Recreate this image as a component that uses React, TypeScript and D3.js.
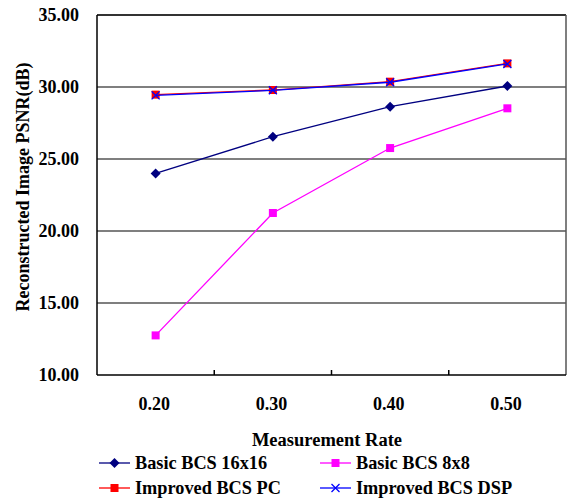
import React from "react";
import * as d3 from "d3";

const categories = ["0.20", "0.30", "0.40", "0.50"];
const basic16 = [24.0, 26.55, 28.63, 30.07];
const basic8 = [12.75, 21.25, 25.76, 28.52];
const improvedPC = [29.47, 29.79, 30.37, 31.64];
const improvedDSP = [29.42, 29.77, 30.33, 31.6];
const yTicks = [10, 15, 20, 25, 30, 35];

const seriesList = [
  { name: "Basic BCS 16x16", values: basic16, color: "#000080", marker: "diamond" },
  { name: "Basic BCS 8x8", values: basic8, color: "#FF00FF", marker: "square" },
  { name: "Improved BCS PC", values: improvedPC, color: "#FF0000", marker: "circle" },
  { name: "Improved BCS DSP", values: improvedDSP, color: "#0000FF", marker: "x" },
];

const W = 567, H = 501;
const left = 97, right = 566, top = 15, bottom = 375;
const font = "'Liberation Serif', 'Times New Roman', serif";

function Marker({ type, x, y, color }: { type: string; x: number; y: number; color: string }) {
  if (type === "diamond") {
    const s = 5;
    return <path d={`M${x},${y - s}L${x + s},${y}L${x},${y + s}L${x - s},${y}Z`} fill={color} />;
  }
  if (type === "square") {
    return <rect x={x - 4} y={y - 4} width={8} height={8} fill={color} />;
  }
  if (type === "circle") {
    return <rect x={x - 4} y={y - 4} width={8} height={8} fill={color} />;
  }
  const s = 4;
  return (
    <path d={`M${x - s},${y - s}L${x + s},${y + s}M${x - s},${y + s}L${x + s},${y - s}`} stroke={color} strokeWidth={1.3} fill="none" />
  );
}

export default function App() {
  const x = d3.scaleBand<string>().domain(categories).range([left, right]);
  const y = d3.scaleLinear().domain([10, 35]).range([bottom, top]);
  const cx = (i: number) => (x(categories[i]) as number) + x.bandwidth() / 2;
  const line = d3
    .line<number>()
    .x((_, i) => cx(i))
    .y((d) => y(d));

  const legendPos = [
    { lx: 99, ty: 463 },
    { lx: 320, ty: 463 },
    { lx: 99, ty: 488 },
    { lx: 320, ty: 488 },
  ];

  return (
    <svg width={W} height={H} style={{ position: "absolute", left: 0, top: 0 }} fontFamily={font}>
      <rect width={W} height={H} fill="#fff" />
      {yTicks.slice(1, -1).map((t) => (
        <line key={t} x1={left} x2={right} y1={y(t)} y2={y(t)} stroke="#555" strokeWidth={1.5} />
      ))}
      <line x1={left} x2={right} y1={top} y2={top} stroke="#333" strokeWidth={2} />
      <line x1={right} x2={right} y1={top} y2={bottom} stroke="#555" strokeWidth={1.5} />
      <line x1={left} x2={left} y1={top} y2={bottom} stroke="#000" strokeWidth={1.5} />
      <line x1={left} x2={right} y1={bottom} y2={bottom} stroke="#000" strokeWidth={1.5} />
      {categories.slice(1).map((c) => (
        <line key={c} x1={x(c)} x2={x(c)} y1={bottom} y2={bottom - 5} stroke="#000" strokeWidth={1.5} />
      ))}
      {yTicks.map((t) => (
        <text key={t} x={79} y={y(t)} dy="0.35em" textAnchor="end" fontSize={18} fontWeight="bold">
          {t.toFixed(2)}
        </text>
      ))}
      {categories.map((c, i) => (
        <text key={c} x={cx(i) - 1.5} y={410} textAnchor="middle" fontSize={18} fontWeight="bold">
          {c}
        </text>
      ))}
      <text x={327} y={446} textAnchor="middle" fontSize={18.5} fontWeight="bold">
        Measurement Rate
      </text>
      <text transform={`translate(29,187) rotate(-90)`} textAnchor="middle" fontSize={18} fontWeight="bold">
        Reconstructed Image PSNR(dB)
      </text>
      {seriesList.map((s) => (
        <g key={s.name}>
          <path d={line(s.values) as string} fill="none" stroke={s.color} strokeWidth={1.3} />
          {s.values.map((v, i) => (
            <Marker key={i} type={s.marker} x={cx(i)} y={y(v)} color={s.color} />
          ))}
        </g>
      ))}
      {seriesList.map((s, i) => {
        const p = legendPos[i];
        return (
          <g key={s.name}>
            <line x1={p.lx} x2={p.lx + 31} y1={p.ty} y2={p.ty} stroke={s.color} strokeWidth={1.3} />
            <Marker type={s.marker} x={p.lx + 15.5} y={p.ty} color={s.color} />
            <text x={p.lx + 36} y={p.ty} dy="0.35em" fontSize={18.3} fontWeight="bold">
              {s.name}
            </text>
          </g>
        );
      })}
    </svg>
  );
}
